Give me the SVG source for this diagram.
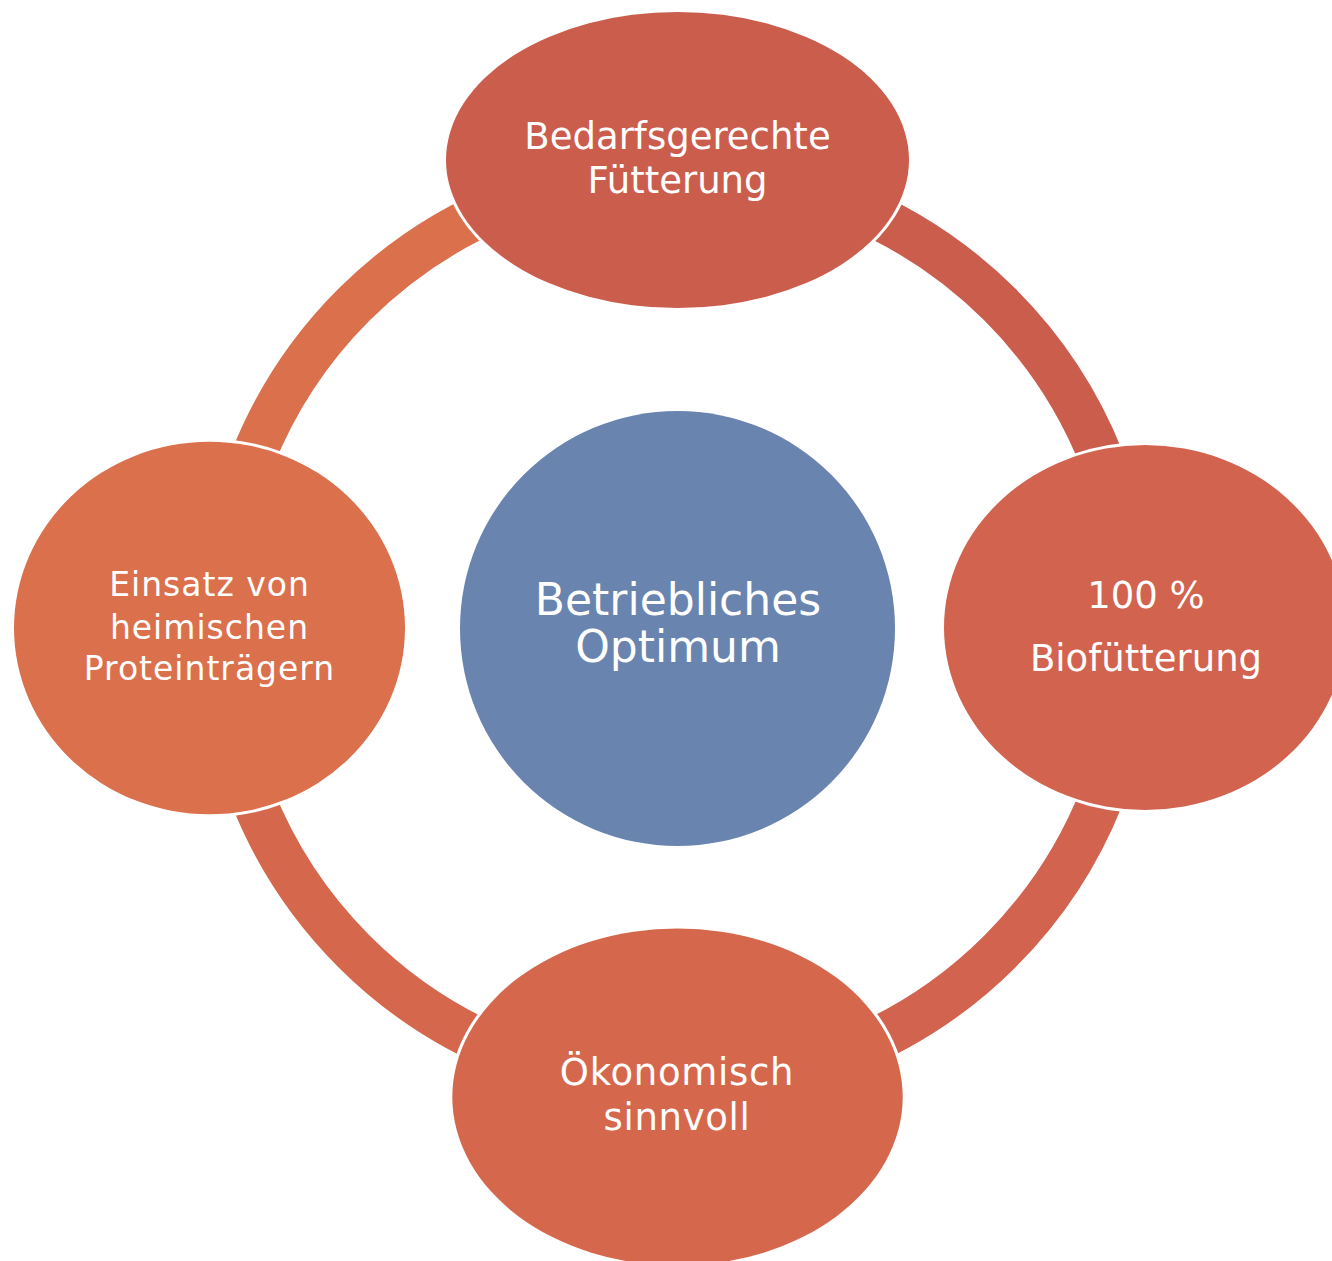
<svg xmlns="http://www.w3.org/2000/svg" width="1332" height="1261" viewBox="0 0 1332 1261">
  <style>
    .ring { fill: none; stroke-width: 44.5; stroke-linecap: butt; }
    .node { stroke: #ffffff; stroke-width: 6; paint-order: stroke; }
    .label { fill: #ffffff; font-family: "DejaVu Sans", "Liberation Sans", sans-serif; text-anchor: middle; }
    .outer { font-size: 37px; }
  </style>
  <rect x="0" y="0" width="1332" height="1261" fill="#ffffff"/>

  <!-- ring connectors, centred on the hub -->
  <g id="connectors">
    <path class="ring" stroke="#DB704C" d="M 220 628 A 457 457 0 0 1 677 171"/>
    <path class="ring" stroke="#CB5D4D" d="M 677 171 A 457 457 0 0 1 1134 628"/>
    <path class="ring" stroke="#D2634F" d="M 1134 628 A 457 457 0 0 1 677 1085"/>
    <path class="ring" stroke="#D5684C" d="M 677 1085 A 457 457 0 0 1 220 628"/>
  </g>

  <g id="node-center">
    <circle cx="677.5" cy="628.5" r="217.5" fill="#6884AF"/>
    <text class="label" font-size="44" x="678" y="615">Betriebliches</text>
    <text class="label" font-size="44" x="678" y="662">Optimum</text>
  </g>

  <g id="node-top">
    <ellipse class="node" cx="677.5" cy="160" rx="231.5" ry="148" fill="#CB5D4D"/>
    <text class="label outer" x="677.5" y="149">Bedarfsgerechte</text>
    <text class="label outer" x="677.5" y="193">Fütterung</text>
  </g>

  <g id="node-right">
    <ellipse class="node" cx="1145" cy="627.5" rx="201" ry="182.5" fill="#D2634F"/>
    <text class="label outer" x="1146" y="608">100 %</text>
    <text class="label outer" x="1146" y="671">Biofütterung</text>
  </g>

  <g id="node-bottom">
    <ellipse class="node" cx="677.5" cy="1097" rx="225.2" ry="168.5" fill="#D5684C"/>
    <text class="label outer" x="677" y="1085" letter-spacing="0.7">Ökonomisch</text>
    <text class="label outer" x="677" y="1130" letter-spacing="0.7">sinnvoll</text>
  </g>

  <g id="node-left">
    <ellipse class="node" cx="209.5" cy="628" rx="195.5" ry="186.3" fill="#DB704C"/>
    <text class="label" font-size="33" letter-spacing="1" x="209.5" y="596">Einsatz von</text>
    <text class="label" font-size="33" letter-spacing="1" x="209.5" y="639">heimischen</text>
    <text class="label" font-size="33" letter-spacing="1" x="209.5" y="680">Proteinträgern</text>
  </g>
</svg>
